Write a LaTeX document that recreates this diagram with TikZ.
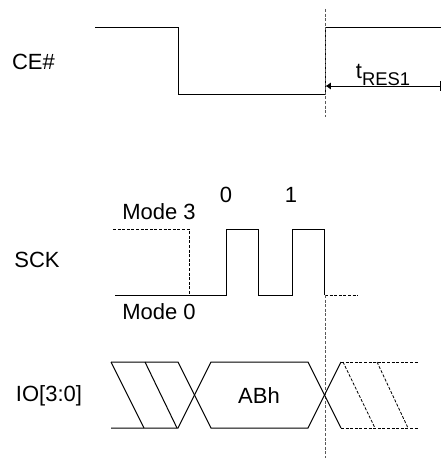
\documentclass[tikz,border=0pt]{standalone}
\usepackage{fontspec}
\setmainfont{Liberation Sans}
\usepackage{tikz}
\usetikzlibrary{positioning,arrows.meta}
\tikzstyle{wave} = [line width=0.5pt]
\tikzstyle{dashwave} = [line width=0.4pt, dash pattern=on 1.5pt off 0.8pt]
\tikzstyle{marker} = [line width=0.5pt, gray!70!black, dash pattern=on 1.5pt off 0.8pt]
\tikzstyle{lbl} = [font=\fontsize{11}{13}\selectfont, inner sep=0pt]
\tikzstyle{timearrow} = [line width=0.4pt, {Bar[width=5pt]}-{Latex[length=2.6pt,width=3.6pt]}]

\begin{document}
\begin{tikzpicture}[x=0.5pt, y=-0.5pt]
	\useasboundingbox (0,0) rectangle (441,460);
	% signal names
	\node (ce) [lbl] at (33.5,62) {CE\#};
	\node (sck) [lbl] at (37,260) {SCK};
	\node (io) [lbl] at (49,396) {IO[3:0]};
	% CE#
	\draw[wave] (95,28) -- (178,28) -- (178,95) -- (325,95) -- (325,28) -- (441,28);
	\draw[marker] (325,9) -- (325,117);
	\coordinate (tend) at (440.6,86);
	\coordinate (tstart) at (325.6,86);
	\draw[timearrow] (tend) -- (tstart);
	\node (tres) [lbl] at (383,75) {t\raisebox{-0.3em}{\fontsize{9.2}{10}\selectfont RES1}};
	% SCK
	\draw[dashwave] (113,229) -- (189,229) -- (189,295);
	\draw[wave] (115,295) -- (226,295) -- (226,229) -- (258,229) -- (258,295) -- (292,295) -- (292,229) -- (324,229) -- (324,295);
	\draw[dashwave] (325,295) -- (358,295);
	\draw[marker] (325,295) -- (325,458);
	\node (m3) [lbl] at (159,212) {Mode 3};
	\node (m0) [lbl] at (159,312) {Mode 0};
	\node (c0) [lbl] at (226,195) {0};
	\node (c1) [lbl] at (291,195) {1};
	% IO[3:0]
	\draw[wave] (111,362) -- (178,362) -- (211,428) -- (308,428) -- (341,362);
	\draw[wave] (111,428) -- (178,428) -- (211,362) -- (308,362) -- (341,428);
	\draw[wave] (111,362) -- (144,428);
	\draw[wave] (145,362) -- (177,428);
	\draw[dashwave] (341,362) -- (418,362);
	\draw[dashwave] (341,428) -- (418,428);
	\draw[dashwave] (343,362) -- (375,428);
	\draw[dashwave] (377,362) -- (408,428);
	\node (abh) [lbl] at (259,396) {ABh};
\end{tikzpicture}
\end{document}
